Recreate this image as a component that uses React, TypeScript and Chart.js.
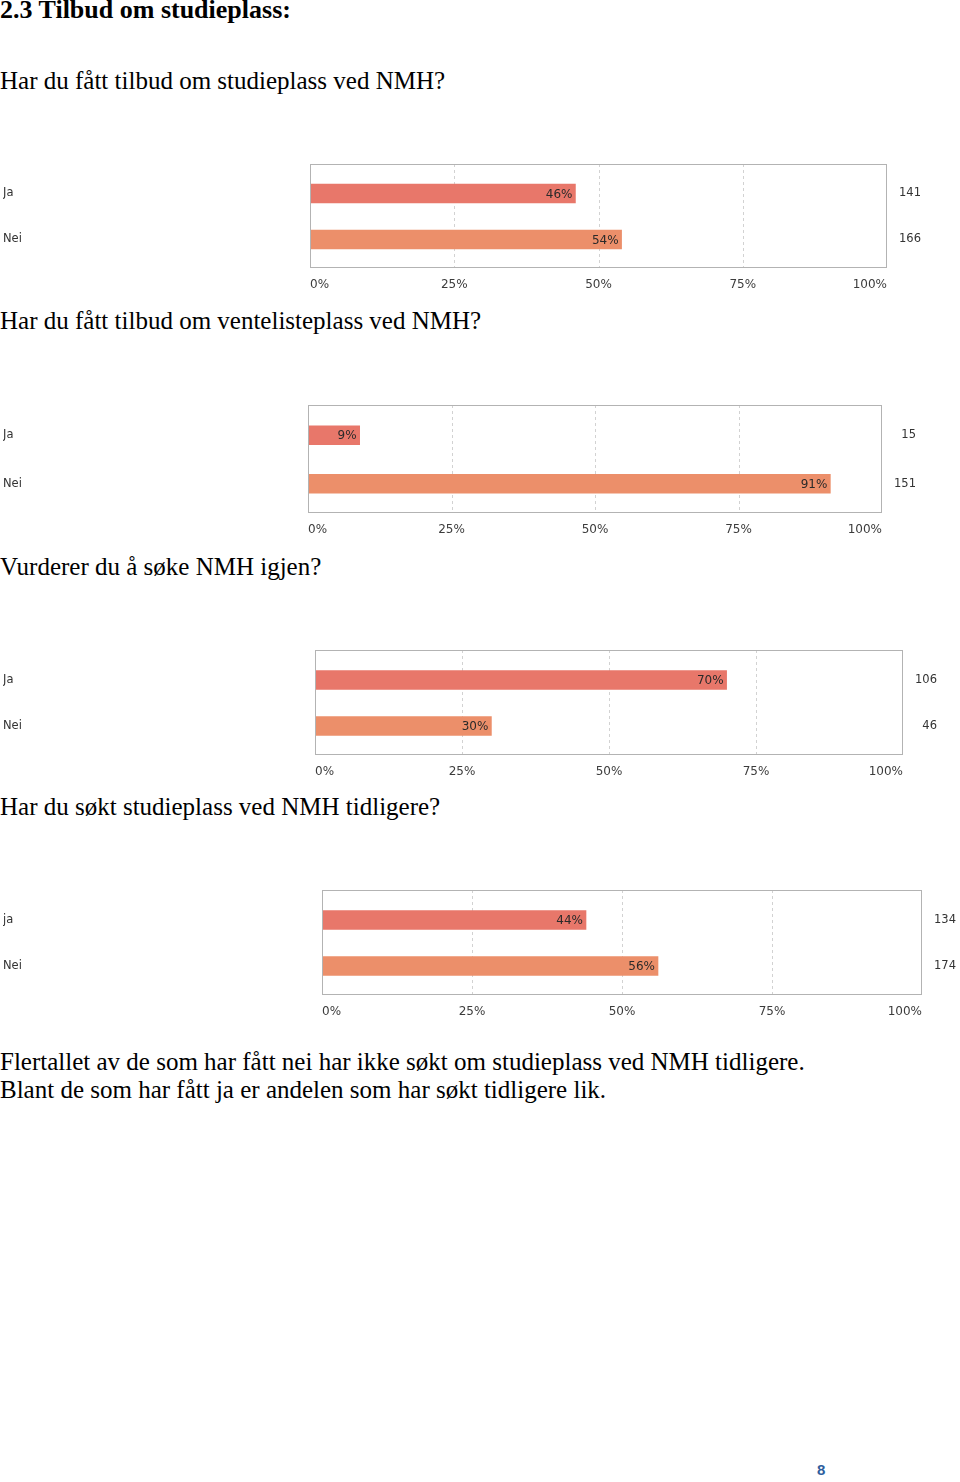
import React, { useEffect, useRef } from "react";
import { Chart, registerables } from "chart.js";

Chart.register(...registerables);

// ---------- data ----------
const answers1 = ["Ja", "Nei"];
const pct1 = [46, 54];
const counts1 = [141, 166];

const answers2 = ["Ja", "Nei"];
const pct2 = [9, 91];
const counts2 = [15, 151];

const answers3 = ["Ja", "Nei"];
const pct3 = [70, 30];
const counts3 = [106, 46];

const answers4 = ["ja", "Nei"];
const pct4 = [44, 56];
const counts4 = [134, 174];

const xTickValues = [0, 25, 50, 75, 100];
const gridValues = [25, 50, 75];
const barColors = ["#E8776A", "#EC8F6A"];

const heading = "2.3 Tilbud om studieplass:";
const question1 = "Har du fått tilbud om studieplass ved NMH?";
const question2 = "Har du fått tilbud om ventelisteplass ved NMH?";
const question3 = "Vurderer du å søke NMH igjen?";
const question4 = "Har du søkt studieplass ved NMH tidligere?";
const para1 = "Flertallet av de som har fått nei har ikke søkt om studieplass ved NMH tidligere.";
const para2 = "Blant de som har fått ja er andelen som har søkt tidligere lik.";
const pageNumber = "8";

// ---------- chart ----------
const CHART_FONT = "DejaVu Sans";

type BarProps = {
  labels: string[];
  pct: number[];
  counts: number[];
  plotLeft: number;
  plotRight: number;
  plotTop: number;
  plotBottom: number;
  insetTop: number;
  insetBottom: number;
};

const PAD_TOP = 2;
const X_AXIS_H = 32;
const COUNT_W = 34;
const W = 960;

function BarChart({ labels, pct, counts, plotLeft, plotRight, plotTop, plotBottom, insetTop, insetBottom }: BarProps) {
  const ref = useRef<HTMLCanvasElement | null>(null);
  const height = plotBottom - plotTop + PAD_TOP + X_AXIS_H;

  useEffect(() => {
    if (!ref.current) return;
    const framePlugin = {
      id: "frame",
      beforeDatasetsDraw(chart: any) {
        const { ctx, chartArea } = chart;
        const xs = chart.scales.x;
        const top = chartArea.top - insetTop;
        const bottom = chartArea.bottom + insetBottom;
        ctx.save();
        ctx.strokeStyle = "#d2d2d2";
        ctx.lineWidth = 1;
        ctx.setLineDash([3, 3]);
        gridValues.forEach((v) => {
          const x = Math.round(xs.getPixelForValue(v)) + 0.5;
          ctx.beginPath();
          ctx.moveTo(x, top);
          ctx.lineTo(x, bottom);
          ctx.stroke();
        });
        ctx.restore();
      },
      afterDatasetsDraw(chart: any) {
        const { ctx, chartArea } = chart;
        const top = Math.round(chartArea.top - insetTop);
        const bottom = Math.round(chartArea.bottom + insetBottom);
        ctx.save();
        ctx.strokeStyle = "#b3b3b3";
        ctx.lineWidth = 1;
        ctx.strokeRect(
          Math.round(chartArea.left) + 0.5,
          top + 0.5,
          Math.round(chartArea.right - chartArea.left) - 1,
          bottom - top - 1
        );
        ctx.restore();
      },
    };
    const valuePlugin = {
      id: "valueLabels",
      afterDatasetsDraw(chart: any) {
        const { ctx } = chart;
        const meta = chart.getDatasetMeta(0);
        const data = chart.data.datasets[0].data as number[];
        ctx.save();
        ctx.font = `12px "${CHART_FONT}"`;
        ctx.fillStyle = "#2a2a2a";
        ctx.textAlign = "right";
        ctx.textBaseline = "middle";
        meta.data.forEach((bar: any, i: number) => {
          ctx.fillText(data[i] + "%", bar.x - 3, bar.y + 1);
        });
        ctx.restore();
      },
    };

    const noVPad = (s: any) => {
      s.paddingTop = 0;
      s.paddingBottom = 0;
    };

    const chart = new Chart(ref.current, {
      type: "bar",
      data: {
        labels,
        datasets: [
          {
            data: pct,
            backgroundColor: barColors,
            borderWidth: 0,
            barThickness: 19,
          },
        ],
      },
      options: {
        indexAxis: "y",
        animation: false,
        responsive: false,
        events: [],
        layout: {
          padding: { left: 3, right: W - (plotRight + COUNT_W), top: PAD_TOP + insetTop, bottom: 0 },
        },
        plugins: {
          legend: { display: false },
          tooltip: { enabled: false },
        },
        scales: {
          x: {
            type: "linear",
            min: 0,
            max: 100,
            afterBuildTicks: (s: any) => {
              s.ticks = xTickValues.map((v) => ({ value: v }));
            },
            afterFit: (s: any) => {
              s.height = X_AXIS_H + insetBottom;
              s.paddingLeft = 0;
              s.paddingRight = 0;
            },
            ticks: {
              callback: (v: any) => v + "%",
              align: "inner",
              padding: 10 + insetBottom,
              color: "#3c3c3c",
              font: { family: CHART_FONT, size: 12 },
            },
            grid: { display: false, drawTicks: false },
            border: { display: false },
          },
          y: {
            position: "left",
            afterFit: (s: any) => {
              s.width = plotLeft - 3;
              noVPad(s);
            },
            ticks: {
              crossAlign: "far",
              color: "#333333",
              font: { family: CHART_FONT, size: 11.5 },
            },
            grid: { display: false, drawTicks: false },
            border: { display: false },
          },
          y2: {
            type: "category",
            labels: counts.map(String),
            position: "right",
            offset: true,
            afterFit: (s: any) => {
              s.width = COUNT_W;
              noVPad(s);
            },
            ticks: {
              crossAlign: "far",
              color: "#333333",
              font: { family: CHART_FONT, size: 11.5 },
            },
            grid: { display: false, drawTicks: false },
            border: { display: false },
          },
        },
      } as any,
      plugins: [framePlugin, valuePlugin],
    });
    return () => chart.destroy();
  }, []);

  return (
    <canvas
      ref={ref}
      width={W}
      height={height}
      style={{ position: "absolute", left: 0, top: plotTop - PAD_TOP, width: W, height }}
    />
  );
}

function Line({ text, baseline, bold, size = 25 }: { text: string; baseline: number; bold?: boolean; size?: number }) {
  return (
    <div
      style={{
        position: "absolute",
        left: 0,
        top: baseline - Math.round(size * 0.84),
        fontFamily: '"Liberation Serif", serif',
        fontSize: size,
        lineHeight: size + "px",
        fontWeight: bold ? 700 : 400,
        whiteSpace: "nowrap",
        color: "#000",
      }}
    >
      {text}
    </div>
  );
}

export default function App() {
  return (
    <div
      style={{
        position: "absolute",
        left: 0,
        top: 0,
        width: 960,
        height: 1482,
        background: "#fff",
        overflow: "hidden",
      }}
    >
      <Line text={heading} baseline={19} bold size={26} />
      <Line text={question1} baseline={89} />
      <BarChart labels={answers1} pct={pct1} counts={counts1} plotLeft={310} plotRight={887} plotTop={164} plotBottom={268} insetTop={6.5} insetBottom={5.5} />
      <Line text={question2} baseline={329} />
      <BarChart labels={answers2} pct={pct2} counts={counts2} plotLeft={308} plotRight={882} plotTop={405} plotBottom={513} insetTop={6} insetBottom={5} />
      <Line text={question3} baseline={575} />
      <BarChart labels={answers3} pct={pct3} counts={counts3} plotLeft={315} plotRight={903} plotTop={650} plotBottom={755} insetTop={7} insetBottom={6} />
      <Line text={question4} baseline={815} />
      <BarChart labels={answers4} pct={pct4} counts={counts4} plotLeft={322} plotRight={922} plotTop={890} plotBottom={995} insetTop={7} insetBottom={6} />
      <Line text={para1} baseline={1070} />
      <Line text={para2} baseline={1098} />
      <div
        style={{
          position: "absolute",
          left: 817,
          top: 1462,
          fontFamily: '"Liberation Sans", sans-serif',
          fontWeight: 700,
          fontSize: 15,
          lineHeight: "15px",
          color: "#2E5E9E",
        }}
      >
        {pageNumber}
      </div>
    </div>
  );
}
